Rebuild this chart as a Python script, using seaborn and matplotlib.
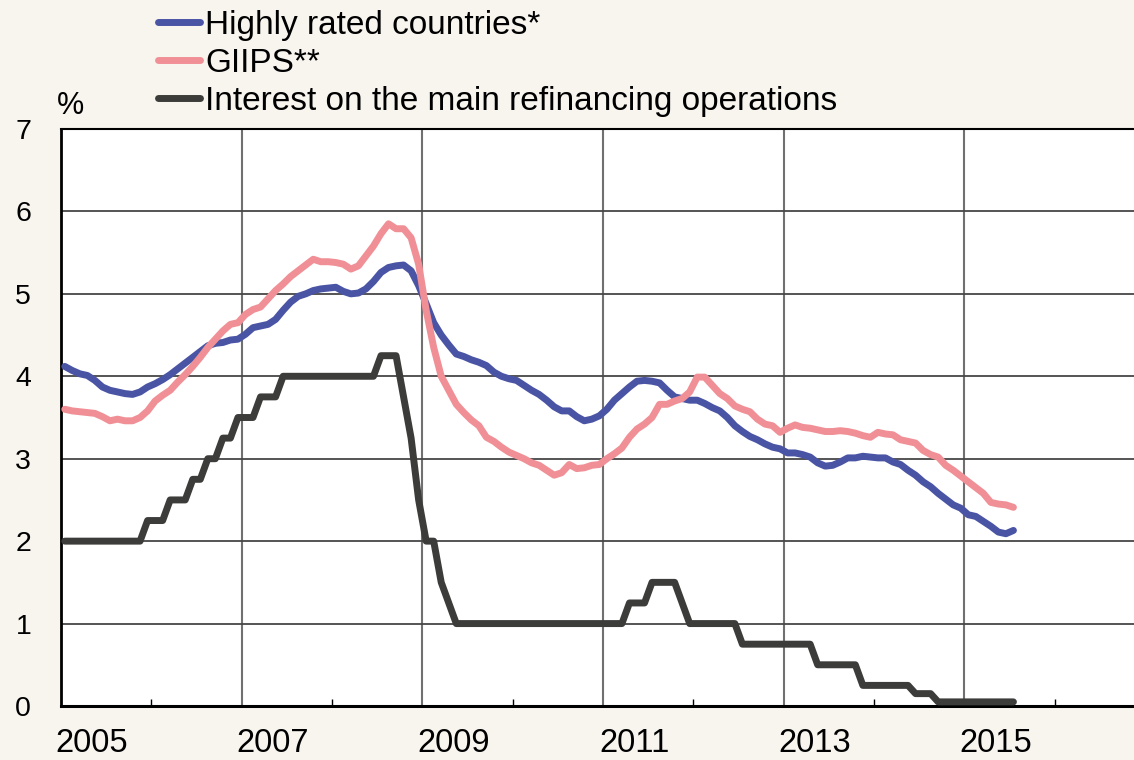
import matplotlib
matplotlib.use("Agg")
import matplotlib.pyplot as plt
import matplotlib.transforms as mtrans
import numpy as np
import pandas as pd
import seaborn as sns

# ---------------- data (monthly, Jan 2005 - Jul 2015) ----------------
start_month = "2005-01"
end_month = "2015-07"

highly_rated = [
    4.12, 4.07, 4.03, 4.01, 3.95, 3.87, 3.83, 3.81, 3.79, 3.78, 3.81, 3.87,
    3.91, 3.96, 4.02, 4.09, 4.16, 4.23, 4.30, 4.37, 4.40, 4.41, 4.44, 4.45,
    4.51, 4.59, 4.61, 4.63, 4.69, 4.80, 4.90, 4.97, 5.00, 5.04, 5.06, 5.07,
    5.08, 5.03, 5.00, 5.01, 5.06, 5.15, 5.26, 5.32, 5.34, 5.35, 5.28, 5.10,
    4.88, 4.65, 4.50, 4.38, 4.27, 4.24, 4.20, 4.17, 4.13, 4.05, 4.00, 3.97,
    3.95, 3.89, 3.83, 3.78, 3.71, 3.63, 3.58, 3.58, 3.51, 3.46, 3.48, 3.52,
    3.60, 3.71, 3.79, 3.87, 3.94, 3.95, 3.94, 3.92, 3.83, 3.75, 3.73, 3.71,
    3.71, 3.67, 3.62, 3.58, 3.50, 3.40, 3.33, 3.27, 3.23, 3.18, 3.14, 3.12,
    3.07, 3.07, 3.05, 3.02, 2.95, 2.91, 2.92, 2.96, 3.01, 3.01, 3.03, 3.02,
    3.01, 3.01, 2.96, 2.93, 2.86, 2.80, 2.72, 2.66, 2.58, 2.51, 2.44, 2.40,
    2.32, 2.30, 2.24, 2.18, 2.11, 2.09, 2.13,
]

giips = [
    3.60, 3.58, 3.57, 3.56, 3.55, 3.51, 3.46, 3.48, 3.46, 3.46, 3.50, 3.58,
    3.70, 3.77, 3.83, 3.93, 4.02, 4.12, 4.23, 4.35, 4.45, 4.55, 4.63, 4.65,
    4.75, 4.81, 4.84, 4.94, 5.04, 5.12, 5.21, 5.28, 5.35, 5.42, 5.39, 5.39,
    5.38, 5.36, 5.30, 5.34, 5.46, 5.58, 5.73, 5.85, 5.79, 5.79, 5.68, 5.36,
    4.80, 4.35, 4.00, 3.83, 3.66, 3.56, 3.47, 3.40, 3.26, 3.21, 3.14, 3.08,
    3.04, 3.00, 2.95, 2.92, 2.86, 2.80, 2.83, 2.93, 2.88, 2.89, 2.92, 2.93,
    3.00, 3.06, 3.13, 3.26, 3.36, 3.42, 3.50, 3.66, 3.66, 3.70, 3.73, 3.81,
    3.99, 3.99, 3.89, 3.79, 3.73, 3.64, 3.60, 3.57, 3.48, 3.42, 3.40, 3.32,
    3.37, 3.41, 3.38, 3.37, 3.35, 3.33, 3.33, 3.34, 3.33, 3.31, 3.28, 3.26,
    3.32, 3.30, 3.29, 3.23, 3.21, 3.19, 3.10, 3.05, 3.02, 2.92, 2.86, 2.79,
    2.72, 2.65, 2.58, 2.47, 2.45, 2.44, 2.41,
]

mro_rate = [
    2.00, 2.00, 2.00, 2.00, 2.00, 2.00, 2.00, 2.00, 2.00, 2.00, 2.00, 2.25,  # 2005
    2.25, 2.25, 2.50, 2.50, 2.50, 2.75, 2.75, 3.00, 3.00, 3.25, 3.25, 3.50,  # 2006
    3.50, 3.50, 3.75, 3.75, 3.75, 4.00, 4.00, 4.00, 4.00, 4.00, 4.00, 4.00,  # 2007
    4.00, 4.00, 4.00, 4.00, 4.00, 4.00, 4.25, 4.25, 4.25, 3.75, 3.25, 2.50,  # 2008
    2.00, 2.00, 1.50, 1.25, 1.00, 1.00, 1.00, 1.00, 1.00, 1.00, 1.00, 1.00,  # 2009
    1.00, 1.00, 1.00, 1.00, 1.00, 1.00, 1.00, 1.00, 1.00, 1.00, 1.00, 1.00,  # 2010
    1.00, 1.00, 1.00, 1.25, 1.25, 1.25, 1.50, 1.50, 1.50, 1.50, 1.25, 1.00,  # 2011
    1.00, 1.00, 1.00, 1.00, 1.00, 1.00, 0.75, 0.75, 0.75, 0.75, 0.75, 0.75,  # 2012
    0.75, 0.75, 0.75, 0.75, 0.50, 0.50, 0.50, 0.50, 0.50, 0.50, 0.25, 0.25,  # 2013
    0.25, 0.25, 0.25, 0.25, 0.25, 0.15, 0.15, 0.15, 0.05, 0.05, 0.05, 0.05,  # 2014
    0.05, 0.05, 0.05, 0.05, 0.05, 0.05, 0.05,                                # 2015
]

series_labels = [
    "Highly rated countries*",
    "GIIPS**",
    "Interest on the main refinancing operations",
]
series_colors = ["#4a54a4", "#f09096", "#3c3c3a"]

x_tick_years = [2005, 2007, 2009, 2011, 2013, 2015]
x_minor_years = [2006, 2008, 2010, 2012, 2014, 2016]
y_ticks = [0, 1, 2, 3, 4, 5, 6, 7]

# ---------------- build frame ----------------
months = pd.period_range(start_month, end_month, freq="M")
xpos = months.year + (months.month - 0.5) / 12.0
df = pd.DataFrame({
    "x": xpos,
    series_labels[0]: highly_rated,
    series_labels[1]: giips,
    series_labels[2]: mro_rate,
})

# ---------------- style ----------------
sns.set_style("white")
plt.rcParams["font.family"] = ["Liberation Sans", "DejaVu Sans"]
plt.rcParams["lines.solid_capstyle"] = "round"
plt.rcParams["lines.solid_joinstyle"] = "round"
plt.rcParams["text.color"] = "black"
plt.rcParams["xtick.color"] = "black"
plt.rcParams["ytick.color"] = "black"

BG = "#f8f4ee"
W, H = 1134, 760
fig = plt.figure(figsize=(W / 100, H / 100), dpi=100, facecolor=BG)
left_px, right_px, top_px, bottom_px = 61, 1134, 129, 706
ax = fig.add_axes([left_px / W, 1 - bottom_px / H,
                   (right_px - left_px) / W, (bottom_px - top_px) / H])
ax.set_facecolor("white")

for lab, col in zip(series_labels, series_colors):
    sns.lineplot(data=df, x="x", y=lab, ax=ax, color=col, linewidth=5.0,
                 label=lab, zorder=3)

px_per_year = 180.7 / 2
ax.set_xlim(2005, 2005 + (right_px - left_px) / px_per_year)
ax.set_ylim(0, 7)

ax.set_xticks(x_tick_years)
ax.set_xticklabels([str(y) for y in x_tick_years])
ax.set_xticks(x_minor_years, minor=True)
ax.set_yticks(y_ticks)
ax.set_yticklabels([str(v) for v in y_ticks])
ax.set_xlabel("")
ax.set_ylabel("")

ax.grid(True, which="major", axis="y", color="#474747", linewidth=1.3, zorder=1)
ax.grid(True, which="major", axis="x", color="#707070", linewidth=1.5, zorder=1)
ax.set_axisbelow(True)

ax.tick_params(axis="x", which="major", length=0, pad=16, labelsize=23.5, labelcolor="black")
ax.tick_params(axis="x", which="minor", direction="in", length=5, width=1.0,
               color="black", bottom=True)
ax.tick_params(axis="y", which="major", length=0, pad=21.5, labelsize=20.5, labelcolor="black")

# shift year labels to the right of their gridlines
offset = mtrans.ScaledTranslation(31 / 100, 0, fig.dpi_scale_trans)
for lbl in ax.get_xticklabels():
    lbl.set_transform(lbl.get_transform() + offset)

for side in ["left", "bottom", "top"]:
    ax.spines[side].set_visible(True)
    ax.spines[side].set_color("black")
ax.spines["left"].set_linewidth(2.0)
ax.spines["bottom"].set_linewidth(2.2)
ax.spines["top"].set_linewidth(1.5)
ax.spines["right"].set_visible(False)

handles, labels = ax.get_legend_handles_labels()
leg = ax.legend(handles, labels, loc="upper left",
                bbox_to_anchor=(158 / W, 1 - 10 / H), bbox_transform=fig.transFigure,
                frameon=False, fontsize=24, handlelength=1.26, handletextpad=0.15,
                labelspacing=0.21, borderaxespad=0, borderpad=0)
for t in leg.get_texts():
    t.set_color("black")

fig.text(71 / W, 1 - 106 / H, "%", ha="center", va="center", fontsize=22, color="black")

fig.savefig("out.png", dpi=100, facecolor=BG)
